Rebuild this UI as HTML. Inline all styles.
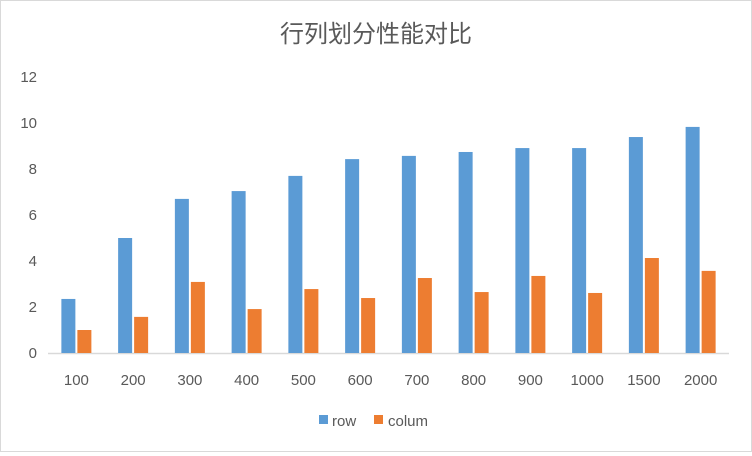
<!DOCTYPE html>
<html><head><meta charset="utf-8"><style>
body{margin:0;background:#fff}
#c{position:relative;width:752px;height:452px;box-sizing:border-box;border:1px solid #d9d9d9;background:#fff;font-family:"Liberation Sans","Noto Sans CJK SC",sans-serif}
svg text{font-family:"Liberation Sans","Noto Sans CJK SC",sans-serif}
</style></head><body>
<div id="c">
<svg id="s" width="750" height="450"></svg>
</div>
<script>
const categories=["100","200","300","400","500","600","700","800","900","1000","1500","2000"];
const rowValues=[2.35,5.0,6.7,7.04,7.7,8.43,8.57,8.74,8.91,8.91,9.39,9.83];
const columValues=[1.0,1.57,3.09,1.91,2.78,2.39,3.26,2.65,3.35,2.61,4.13,3.57];
const yTicks=[0,2,4,6,8,10,12];
const NS="http://www.w3.org/2000/svg";
const s=document.getElementById('s');
const L=47,R=728,T=76,B=352,yMax=12;
const y=v=>B-(v/yMax)*(B-T);
const band=(R-L)/categories.length;
const xc=i=>L+band*(i+0.5);
function mk(t,a){const e=document.createElementNS(NS,t);for(const k in a)e.setAttribute(k,a[k]);s.appendChild(e);return e;}
const title=mk('text',{x:375,y:41,'text-anchor':'middle','font-size':24,fill:'#595959'});
title.textContent='行列划分性能对比';


const ax=mk('line',{x1:L,x2:R,y1:B+0.5,y2:B+0.5,stroke:'#d9d9d9','stroke-width':1.5});


yTicks.forEach(v=>{
 const t=mk('text',{x:36,y:y(v)+5,'text-anchor':'end','font-size':15,fill:'#595959'});
 t.textContent=v;
 
 
});
categories.forEach((c,i)=>{
 const cx=xc(i);
 const r=mk('rect',{x:cx-15,y:y(rowValues[i]),width:14,height:B-y(rowValues[i]),fill:'#5b9bd5'});
 
 
 const q=mk('rect',{x:cx+1,y:y(columValues[i]),width:14,height:B-y(columValues[i]),fill:'#ed7d31'});
 
 
 const t=mk('text',{x:cx,y:384,'text-anchor':'middle','font-size':15,fill:'#595959'});
 t.textContent=c;
 
 
});
const l1=mk('rect',{x:318,y:414,width:9,height:9,fill:'#5b9bd5'});


const t1=mk('text',{x:331,y:425,'font-size':15,fill:'#595959'});t1.textContent='row';


const l2=mk('rect',{x:373,y:414,width:9,height:9,fill:'#ed7d31'});


const t2=mk('text',{x:387,y:425,'font-size':15,fill:'#595959'});t2.textContent='colum';


</script>
</body></html>
